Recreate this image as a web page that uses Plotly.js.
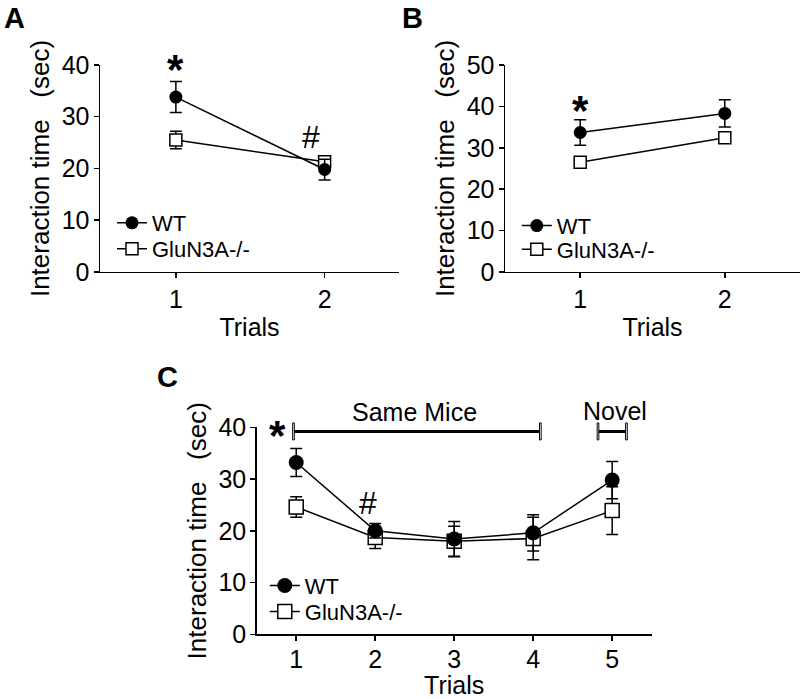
<!DOCTYPE html>
<html>
<head>
<meta charset="utf-8">
<script src="https://cdn.plot.ly/plotly-3.0.1.min.js"></script>
<style>html,body{margin:0;padding:0;background:#fff;}#chart{width:800px;height:699px;}</style>
</head>
<body>
<div id="chart"></div>
<script>
// ---- data ----
const trialsAB = [1, 2];
const trialsC = [1, 2, 3, 4, 5];
const seriesNames = ["WT", "GluN3A-/-"];

const A_wt = [33.8, 19.8];
const A_wt_err = [3.0, 2.0];
const A_ko = [25.5, 21.3];
const A_ko_err = [1.7, 1.0];

const B_wt = [33.7, 38.3];
const B_wt_err = [3.1, 3.3];
const B_ko = [26.5, 32.4];
const B_ko_err = [0.8, 1.3];

const C_wt = [33.2, 20.0, 18.4, 19.6, 29.8];
const C_wt_err = [2.7, 1.4, 3.4, 3.5, 3.6];
const C_ko = [24.6, 18.7, 18.0, 18.5, 23.9];
const C_ko_err = [2.0, 2.1, 2.9, 4.1, 4.6];

const yTitle = "Interaction time\u00a0\u00a0\u00a0(sec)";
const xTitle = "Trials";
const FONT = "Liberation Sans, Arial, sans-serif";

function wtTrace(x, y, e, xa, ya, leg, size) {
  return {
    x: x, y: y, xaxis: xa, yaxis: ya, name: seriesNames[0], legend: leg,
    type: "scatter", mode: "lines+markers",
    line: {color: "#000", width: 1.5},
    marker: {symbol: "circle", size: size, color: "#000"},
    error_y: {type: "data", array: e, visible: true, color: "#000", thickness: 1.5, width: 6},
    cliponaxis: false
  };
}
function koTrace(x, y, e, xa, ya, leg, size) {
  return {
    x: x, y: y, xaxis: xa, yaxis: ya, name: seriesNames[1], legend: leg,
    type: "scatter", mode: "lines+markers",
    line: {color: "#000", width: 1.5},
    marker: {symbol: "square", size: size, color: "#fff", line: {color: "#000", width: 1.5}},
    error_y: {type: "data", array: e, visible: true, color: "#000", thickness: 1.5, width: 6},
    cliponaxis: false
  };
}

const data = [
  koTrace(trialsAB, A_ko, A_ko_err, "x", "y", "legend2", 12),
  wtTrace(trialsAB, A_wt, A_wt_err, "x", "y", "legend", 13),
  koTrace(trialsAB, B_ko, B_ko_err, "x2", "y2", "legend4", 12),
  wtTrace(trialsAB, B_wt, B_wt_err, "x2", "y2", "legend3", 13),
  koTrace(trialsC, C_ko, C_ko_err, "x3", "y3", "legend6", 14),
  wtTrace(trialsC, C_wt, C_wt_err, "x3", "y3", "legend5", 15)
];

function xaxis(domain, range, tickvals, anchor, lblOff, standoff) {
  return {
    domain: domain, range: range, anchor: anchor, tickvals: tickvals,
    showgrid: false, zeroline: false, showline: true, linecolor: "#000", linewidth: 1.5,
    ticks: "outside", ticklen: 5, tickwidth: 1.5, tickcolor: "#000",
    ticklabelstandoff: lblOff,
    tickfont: {family: FONT, size: 25, color: "#000"},
    title: {text: xTitle, font: {family: FONT, size: 25, color: "#000"}, standoff: standoff},
    fixedrange: true
  };
}
function yaxis(domain, range, dtick, anchor) {
  return {
    domain: domain, range: range, anchor: anchor, dtick: dtick, tick0: 0,
    showgrid: false, zeroline: false, showline: true, linecolor: "#000", linewidth: 1.5,
    ticks: "outside", ticklen: 5, tickwidth: 1.5, tickcolor: "#000",
    ticklabelstandoff: -1,
    tickfont: {family: FONT, size: 25, color: "#000"},
    title: {text: yTitle, font: {family: FONT, size: 26, color: "#000"}, standoff: 4},
    fixedrange: true
  };
}

function leg(x, y) {
  return {x: x, y: y, xanchor: "left", yanchor: "middle", bgcolor: "rgba(0,0,0,0)",
          borderwidth: 0, font: {family: FONT, size: 22, color: "#000"}, itemclick: false, itemdoubleclick: false};
}

function txt(text, x, y, xref, yref, size, bold, yshift) {
  return {text: bold ? "<b>" + text + "</b>" : text, x: x, y: y, xref: xref, yref: yref,
          showarrow: false, xanchor: "center", yanchor: "middle", yshift: yshift || 0,
          font: {family: FONT, size: size, color: "#000"}};
}

const layout = {
  width: 800, height: 699,
  margin: {l: 0, r: 0, t: 0, b: 0},
  paper_bgcolor: "#fff", plot_bgcolor: "#fff",
  hovermode: false,
  showlegend: true,
  xaxis: xaxis([0.125, 0.49875], [0.49, 2.5], trialsAB, "y", 0, 6),
  yaxis: yaxis([0.6109, 0.9070], [0, 40], 10, "x"),
  xaxis2: xaxis([0.63125, 1.0], [0.48, 2.52], trialsAB, "y2", 0, 6),
  yaxis2: yaxis([0.6109, 0.9070], [0, 50], 10, "x2"),
  xaxis3: xaxis([0.3209, 0.8146], [0.5, 5.5], trialsC, "y3", -3, 0),
  yaxis3: yaxis([0.0926, 0.3887], [0, 40], 10, "x3"),
  legend: leg(0.14, 0.681),
  legend2: leg(0.14, 0.644),
  legend3: leg(0.646, 0.677),
  legend4: leg(0.646, 0.643),
  legend5: leg(0.331, 0.162),
  legend6: leg(0.331, 0.125),
  annotations: [
    txt("A", 0.0175, 0.974, "paper", "paper", 29, true),
    txt("B", 0.516, 0.974, "paper", "paper", 29, true),
    txt("C", 0.209, 0.4607, "paper", "paper", 29, true),
    txt("*", 1, 40, "x", "y", 42, true, -4),
    txt("#", 1.91, 26.1, "x", "y", 32, false),
    txt("*", 1, 39.9, "x2", "y2", 42, true, -4),
    txt("*", 0.757, 39.3, "x3", "y3", 42, true, -5),
    txt("#", 1.91, 25.3, "x3", "y3", 32, false),
    txt("Same Mice", 2.5, 1.075, "x3", "y3 domain", 25, false),
    txt("Novel", 5.04, 1.077, "x3", "y3 domain", 25, false)
  ],
  shapes: [
    {type: "line", xref: "x3", yref: "y3 domain", x0: 0.966, x1: 4.09, y0: 0.98, y1: 0.98, line: {color: "#000", width: 3}},
    {type: "line", xref: "x3", yref: "y3 domain", x0: 4.82, x1: 5.18, y0: 0.98, y1: 0.98, line: {color: "#000", width: 3}},
    {type: "rect", xref: "x3", yref: "y3 domain", x0: 0.955, x1: 0.976, y0: 0.939, y1: 1.021, fillcolor: "#fff", line: {color: "#000", width: 1}},
    {type: "rect", xref: "x3", yref: "y3 domain", x0: 4.08, x1: 4.101, y0: 0.939, y1: 1.021, fillcolor: "#fff", line: {color: "#000", width: 1}},
    {type: "rect", xref: "x3", yref: "y3 domain", x0: 4.81, x1: 4.831, y0: 0.939, y1: 1.021, fillcolor: "#fff", line: {color: "#000", width: 1}},
    {type: "rect", xref: "x3", yref: "y3 domain", x0: 5.17, x1: 5.191, y0: 0.939, y1: 1.021, fillcolor: "#fff", line: {color: "#000", width: 1}}
  ]
};

Plotly.newPlot("chart", data, layout, {displayModeBar: false, staticPlot: true});
</script>
</body>
</html>
